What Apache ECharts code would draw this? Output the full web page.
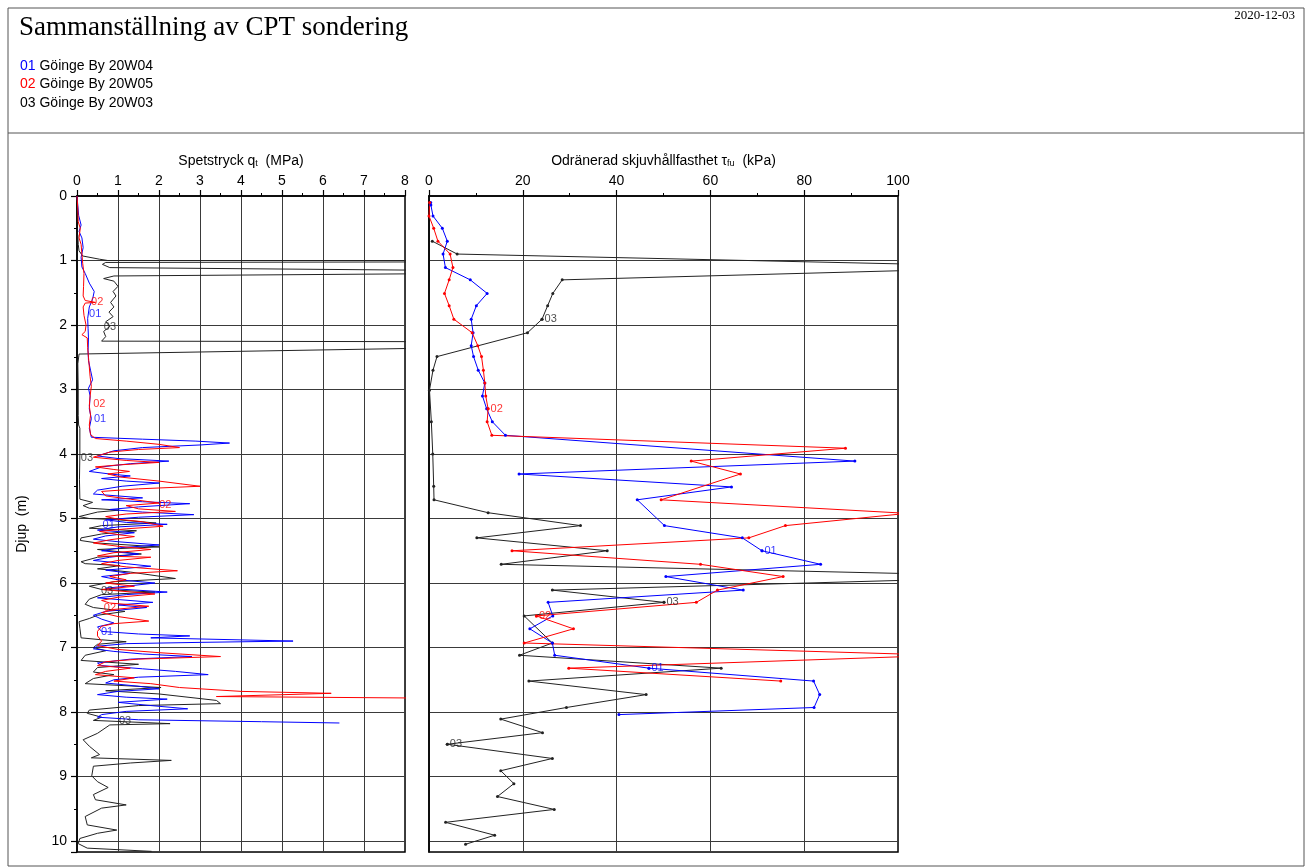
<!DOCTYPE html>
<html><head><meta charset="utf-8">
<script src="https://cdn.jsdelivr.net/npm/echarts@6/dist/echarts.min.js"></script>
<style>html,body{margin:0;padding:0;background:#fff}#c{width:1312px;height:868px}</style>
</head><body><div id="c"></div>
<script>
// ---------- DATA ----------
const seriesNames = ['01', '02', '03'];
const legendTexts = ['Göinge By 20W04', 'Göinge By 20W05', 'Göinge By 20W03'];
const seriesColors = ['#0000ff', '#ff0000', '#222222'];

// Spetstryck qt (MPa) vs depth (m): [qt, depth]
const qt01 = [[0,0],[0.02,0.15],[0.04,0.3],[0.1,0.45],[0.05,0.55],[0.12,0.65],[0.15,0.8],[0.1,0.95],[0.12,1.1],[0.2,1.2],[0.3,1.35],[0.42,1.48],[0.38,1.6],[0.3,1.72],[0.26,1.9],[0.27,2.05],[0.28,2.2],[0.27,2.4],[0.28,2.55],[0.33,2.7],[0.38,2.85],[0.28,2.98],[0.32,3.1],[0.3,3.3],[0.35,3.45],[0.3,3.6],[0.35,3.74],
[1.6,3.77],[2.9,3.8],[3.72,3.83],[3.0,3.86],[1.6,3.9],[0.9,3.95],[0.5,4.03],[1.0,4.07],[2.24,4.11],[1.3,4.15],[0.6,4.2],[0.3,4.27],[0.8,4.31],[1.3,4.34],[0.6,4.38],[1.2,4.42],[2.0,4.45],[1.1,4.5],[0.5,4.56],[0.4,4.62],[1.0,4.65],[1.6,4.68],[0.6,4.71],[1.6,4.74],[2.75,4.77],[1.5,4.82],[0.8,4.86],[1.6,4.9],[2.85,4.94],[1.5,4.98],[0.7,5.02],[1.2,5.06],[2.2,5.09],[1.0,5.13],[0.5,5.18],[1.4,5.22],[0.7,5.27],[0.4,5.32],[1.0,5.36],[2.0,5.41],[1.1,5.45],[0.6,5.5],[1.5,5.55],[0.8,5.6],[0.4,5.65],[1.2,5.7],[1.8,5.74],[0.7,5.8],[1.3,5.85],[0.6,5.9],[1.0,5.95],[1.9,6.0],[1.2,6.05],[0.7,6.08],[2.2,6.14],[1.2,6.18],[0.5,6.23],[1.85,6.3],[1.0,6.34],[1.7,6.38],[0.7,6.44],[0.4,6.5],[0.6,6.56],[0.9,6.62],[0.5,6.68],[0.6,6.75],[1.5,6.79],[2.75,6.82],[1.8,6.85],[5.27,6.9],[3.0,6.92],[1.2,6.94],[0.5,6.98],[0.4,7.02],[0.9,7.06],[1.6,7.1],[2.8,7.14],[1.3,7.18],[0.5,7.24],[0.6,7.28],[1.6,7.33],[2.4,7.37],[3.2,7.42],[1.5,7.46],[0.9,7.5],[0.7,7.55],[1.5,7.6],[2.0,7.64],[1.0,7.68],[0.5,7.73],[1.2,7.77],[2.2,7.8],[1.0,7.85],[1.8,7.9],[2.7,7.95],[1.2,7.99],[0.6,8.04],[0.5,8.08],[1.5,8.12],[4.5,8.15],[6.4,8.17]];

const qt02 = [[0,0],[0.02,0.2],[0.03,0.4],[0.08,0.5],[0.05,0.65],[0.1,0.75],[0.12,0.9],[0.14,1.05],[0.17,1.2],[0.16,1.4],[0.15,1.55],[0.2,1.62],[0.45,1.65],[0.2,1.66],[0.15,1.72],[0.17,1.85],[0.22,2.0],[0.2,2.1],[0.12,2.15],[0.25,2.2],[0.26,2.35],[0.28,2.5],[0.3,2.65],[0.32,2.8],[0.35,2.95],[0.32,3.1],[0.3,3.25],[0.33,3.4],[0.3,3.55],[0.33,3.7],[0.45,3.76],
[1.2,3.8],[2.0,3.85],[2.5,3.9],[1.5,3.93],[0.8,3.97],[0.4,4.05],[1.2,4.1],[2.0,4.13],[1.0,4.17],[0.45,4.2],[0.9,4.24],[1.28,4.27],[0.75,4.31],[1.1,4.36],[2.0,4.42],[3.0,4.5],[1.5,4.54],[0.6,4.58],[0.7,4.65],[1.3,4.7],[2.0,4.76],[1.2,4.8],[1.5,4.85],[2.4,4.89],[1.2,4.93],[0.7,4.97],[1.0,5.01],[1.6,5.05],[2.1,5.12],[1.2,5.16],[0.55,5.2],[1.0,5.25],[1.4,5.28],[0.8,5.33],[0.4,5.38],[1.0,5.43],[1.8,5.48],[0.9,5.53],[0.5,5.58],[1.8,5.6],[1.0,5.65],[0.6,5.7],[1.2,5.75],[2.45,5.81],[1.3,5.85],[0.8,5.9],[1.2,5.95],[0.7,6.0],[1.4,6.05],[0.6,6.1],[1.9,6.17],[1.0,6.22],[0.6,6.27],[0.8,6.31],[1.75,6.36],[0.9,6.41],[0.6,6.46],[1.0,6.52],[1.75,6.59],[0.9,6.63],[0.6,6.67],[0.5,6.75],[0.5,6.82],[0.6,6.9],[0.5,6.97],[1.0,7.03],[2.0,7.08],[3.5,7.14],[1.5,7.18],[0.7,7.22],[0.5,7.28],[1.3,7.32],[0.7,7.37],[0.45,7.42],[1.4,7.47],[0.9,7.52],[1.8,7.56],[2.5,7.62],[4.0,7.68],[6.2,7.71],[3.4,7.76],[14,7.81]];

const qt03 = [[0.02,0.6],[0.03,0.75],[0.05,0.85],[0.14,0.93],[0.55,0.98],[0.75,1.0],[30,1.0],[0.7,1.03],[0.62,1.06],[0.8,1.11],[14,1.18],[0.9,1.24],[0.65,1.28],[0.9,1.32],[1.0,1.4],[0.88,1.48],[0.95,1.55],[0.82,1.65],[0.9,1.72],[0.78,1.8],[0.88,1.87],[0.7,1.95],[0.8,2.02],[0.65,2.1],[0.7,2.18],[0.6,2.25],[20,2.27],[14,2.3],[0.05,2.45],[0.02,2.6],[0.03,3.0],[0.03,3.4],[0.04,3.55],[0.07,3.6],[0.07,4.0],[0.06,4.4],[0.07,4.7],[0.38,4.75],[0.15,4.8],[0.3,4.84],[1.03,4.87],[0.5,4.9],[0.05,4.97],[0.3,5.0],[1.0,5.02],[1.93,5.07],[0.6,5.11],[0.3,5.15],[1.45,5.19],[0.6,5.24],[0.1,5.3],[0.08,5.34],[0.5,5.38],[2.0,5.44],[0.5,5.48],[1.57,5.55],[0.5,5.6],[0.1,5.67],[0.2,5.7],[1.05,5.73],[0.5,5.78],[1.3,5.83],[2.4,5.93],[0.9,5.98],[0.3,6.05],[0.6,6.1],[1.9,6.14],[0.6,6.18],[0.3,6.25],[0.2,6.33],[0.4,6.38],[1.17,6.44],[0.5,6.5],[0.3,6.55],[0.05,6.6],[0.07,6.7],[0.1,6.85],[0.6,6.88],[1.2,6.91],[0.5,6.95],[0.4,7.0],[0.7,7.05],[0.2,7.12],[0.1,7.2],[1.5,7.26],[0.5,7.31],[0.4,7.38],[0.9,7.42],[0.4,7.48],[0.2,7.56],[2.05,7.62],[0.7,7.67],[2.0,7.72],[3.4,7.82],[3.5,7.87],[1.5,7.9],[0.3,7.97],[0.25,8.02],[0.6,8.08],[0.4,8.13],[2.27,8.18],[0.8,8.2],[0.5,8.33],[0.15,8.43],[0.3,8.53],[0.55,8.66],[0.35,8.71],[2.3,8.75],[1.3,8.79],[0.4,8.84],[0.36,8.99],[0.5,9.08],[0.76,9.17],[0.4,9.28],[0.45,9.36],[1.2,9.44],[0.6,9.49],[0.2,9.62],[0.25,9.75],[0.97,9.83],[0.5,9.88],[0.07,9.96],[0.03,10.04],[0.25,10.11],[1.82,10.16]];

// Odränerad skjuvhållfasthet tau_fu (kPa) vs depth (m): [tau, depth]
const tau01 = [[0.36,0.10],[0.4,0.14],[0.85,0.31],[2.84,0.5],[3.9,0.70],[3.0,0.9],[3.5,1.11],[8.8,1.30],[12.4,1.51],[10.1,1.70],[9.0,1.91],[9.4,2.12],[9.0,2.32],[9.5,2.49],[10.5,2.70],[11.9,2.90],[11.4,3.10],[12.3,3.30],[13.5,3.50],[16.3,3.71],[90.8,4.11],[19.2,4.31],[64.5,4.51],[44.4,4.71],[50.2,5.11],[66.8,5.30],[71.0,5.50],[83.5,5.71],[50.5,5.90],[67.0,6.11],[25.4,6.30],[26.4,6.51],[21.5,6.71],[26.3,6.93],[26.8,7.12],[46.9,7.32],[82.0,7.52],[83.3,7.73],[82.1,7.93],[40.5,8.04]];
const tau02 = [[0.14,0.10],[0,0.31],[1.0,0.5],[1.9,0.70],[4.5,0.90],[5.1,1.11],[4.3,1.30],[3.3,1.51],[4.3,1.70],[5.3,1.91],[9.2,2.12],[10.4,2.32],[11.2,2.49],[11.6,2.70],[11.9,2.90],[12.1,3.10],[12.6,3.30],[12.4,3.50],[13.4,3.71],[88.8,3.91],[55.9,4.11],[66.4,4.31],[49.5,4.71],[102,4.92],[76.0,5.11],[68.2,5.30],[17.7,5.50],[57.9,5.71],[75.5,5.90],[61.5,6.11],[57.0,6.30],[22.9,6.51],[30.8,6.71],[20.3,6.93],[110,7.12],[29.8,7.32],[75.0,7.52]];
const tau03 = [[0.7,0.70],[6.0,0.90],[130,1.10],[28.4,1.30],[26.4,1.51],[25.3,1.70],[24.1,1.91],[21.0,2.12],[1.7,2.49],[0.85,2.70],[0.1,3.01],[0.5,3.5],[0.8,4.0],[1.0,4.5],[1.07,4.71],[12.6,4.91],[32.3,5.11],[10.2,5.30],[38.0,5.50],[15.4,5.71],[130,5.90],[26.3,6.11],[50.1,6.30],[20.3,6.51],[26.3,6.93],[19.3,7.12],[62.3,7.32],[21.3,7.52],[46.3,7.73],[29.3,7.93],[15.3,8.11],[24.2,8.32],[3.9,8.50],[26.3,8.72],[15.3,8.91],[18.1,9.11],[14.6,9.31],[26.7,9.51],[3.55,9.71],[14.0,9.91],[7.8,10.05]];

// series tag label anchor points
const qtLabels01 = [[0.27,1.83],[0.39,3.46],[0.6,5.1],[0.56,6.76]];
const qtLabels02 = [[0.32,1.64],[0.37,3.22],[1.98,4.79],[0.63,6.39]];
const qtLabels03 = [[0.63,2.03],[0.07,4.06],[0.56,6.12],[1.0,8.14]];
const tauLabels01 = [[71.0,5.50],[46.9,7.32]];
const tauLabels02 = [[12.6,3.30],[22.9,6.51]];
const tauLabels03 = [[24.1,1.91],[50.1,6.30],[3.9,8.50]];

const qtAxis = {min: 0, max: 8, interval: 1};
const tauAxis = {min: 0, max: 100, interval: 20};
const depthAxis = {min: 0, max: 10.17, interval: 1};

const titleText = 'Sammanställning av CPT sondering';
const dateText = '2020-12-03';
const qtName = '{a|Spetstryck q}{s|t}{a|  (MPa)}';
const tauName = '{a|Odränerad skjuvhållfasthet τ}{s|fu}{a|  (kPa)}';
const depthName = 'Djup  (m)';

// ---------- CHART ----------
const FONT = '"Liberation Sans", Arial, sans-serif';
const chart = echarts.init(document.getElementById('c'), null, {renderer: 'canvas'});

const nameRich = {
  a: {fontSize: 14, fontFamily: FONT, color: '#000', fontWeight: 'normal'},
  s: {fontSize: 9, fontFamily: FONT, color: '#000', fontWeight: 'normal', lineHeight: 9, padding: [10, 0, 0, 0], verticalAlign: 'bottom'}
};

function xAx(grid, cfg, name) {
  return {
    type: 'value', gridIndex: grid, position: 'top', min: cfg.min, max: cfg.max, interval: cfg.interval,
    name: name, nameLocation: 'middle', nameGap: 28,
    nameTextStyle: {rich: nameRich},
    axisLine: {show: true, lineStyle: {color: '#000', width: 1.5}},
    axisTick: {show: true, length: 6, lineStyle: {color: '#000', width: 1.2}},
    minorTick: {show: true, splitNumber: 2, length: 3, lineStyle: {color: '#000', width: 1}},
    axisLabel: {show: true, margin: 8, color: '#000', fontSize: 14, fontFamily: FONT},
    splitLine: {show: true, lineStyle: {color: '#3a3a3a', width: 1}},
    minorSplitLine: {show: false}
  };
}
function yAx(grid, showLabels) {
  return {
    type: 'value', gridIndex: grid, inverse: true, min: depthAxis.min, max: depthAxis.max, interval: depthAxis.interval,
    axisLine: {show: true, lineStyle: {color: '#000', width: 1.5}},
    axisTick: {show: showLabels, length: 6, lineStyle: {color: '#000', width: 1.2}},
    minorTick: {show: showLabels, splitNumber: 2, length: 3, lineStyle: {color: '#000'}},
    axisLabel: {show: showLabels, margin: 10, color: '#000', fontSize: 14, fontFamily: FONT,
      formatter: v => (Math.abs(v - Math.round(v)) < 1e-6 ? String(Math.round(v)) : '')},
    splitLine: {show: true, lineStyle: {color: '#3a3a3a', width: 1}}
  };
}
function lineS(name, data, color, xi, withSymbols) {
  return {
    name: name, type: 'line', xAxisIndex: xi, yAxisIndex: xi, data: data,
    showSymbol: withSymbols, symbol: 'circle', symbolSize: 3,
    itemStyle: {color: color}, lineStyle: {color: color, width: 1},
    clip: true, animation: false, z: 3
  };
}
function withSym(xi) { return xi === 1 ? 3 : 0; }
function tagS(text, data, color, xi) {
  return {
    type: 'scatter', xAxisIndex: xi, yAxisIndex: xi, data: data, symbolSize: withSym(xi),
    itemStyle: {color: color}, silent: true, animation: false, z: 4,
    label: {show: true, position: 'right', distance: 1, formatter: text, color: color, fontSize: 11, fontFamily: FONT}
  };
}

const legendTitles = seriesNames.map((n, i) => ({
  text: '{n|' + n + '} {t|' + legendTexts[i] + '}',
  left: 20, top: 59 + i * 18.5, padding: 0,
  textStyle: {fontWeight: 'normal', fontSize: 14, fontFamily: FONT, rich: {
    n: {color: seriesColors[i] === '#222222' ? '#000' : seriesColors[i], fontSize: 14, fontFamily: FONT, fontWeight: 'normal'},
    t: {color: '#000', fontSize: 14, fontFamily: FONT, fontWeight: 'normal'}
  }}
}));

const option = {
  backgroundColor: '#fff',
  animation: false,
  title: [
    {text: titleText, left: 19, top: 14, padding: 0,
     textStyle: {fontFamily: '"Liberation Serif", "Times New Roman", serif', fontSize: 27, fontWeight: 'normal', color: '#000'}},
    {text: dateText, right: 17, top: 9, padding: 0,
     textStyle: {fontFamily: '"Liberation Serif", "Times New Roman", serif', fontSize: 13, fontWeight: 'normal', color: '#000'}}
  ].concat(legendTitles),
  graphic: [
    {type: 'rect', shape: {x: 8, y: 8, width: 1296, height: 858}, style: {fill: 'none', stroke: '#555', lineWidth: 1}, silent: true},
    {type: 'line', shape: {x1: 8, y1: 133, x2: 1304, y2: 133}, style: {stroke: '#555', lineWidth: 1}, silent: true},
    {type: 'text', x: 22, y: 524, rotation: Math.PI / 2,
     style: {text: depthName, fill: '#000', font: '14px ' + FONT, textAlign: 'center', textVerticalAlign: 'middle'}, silent: true}
  ],
  grid: [
    {left: 77, top: 196, width: 328, height: 656, show: true, borderColor: '#000', borderWidth: 1.5, backgroundColor: 'transparent'},
    {left: 429, top: 196, width: 469, height: 656, show: true, borderColor: '#000', borderWidth: 1.5, backgroundColor: 'transparent'}
  ],
  xAxis: [xAx(0, qtAxis, qtName), xAx(1, tauAxis, tauName)],
  yAxis: [yAx(0, true), yAx(1, false)],
  series: [
    lineS('03', qt03, seriesColors[2], 0, false),
    lineS('01', qt01, seriesColors[0], 0, false),
    lineS('02', qt02, seriesColors[1], 0, false),
    lineS('03', tau03, seriesColors[2], 1, true),
    lineS('01', tau01, seriesColors[0], 1, true),
    lineS('02', tau02, seriesColors[1], 1, true),
    tagS('01', qtLabels01, seriesColors[0], 0),
    tagS('02', qtLabels02, seriesColors[1], 0),
    tagS('03', qtLabels03, seriesColors[2], 0),
    tagS('01', tauLabels01, seriesColors[0], 1),
    tagS('02', tauLabels02, seriesColors[1], 1),
    tagS('03', tauLabels03, seriesColors[2], 1)
  ]
};
chart.setOption(option);
</script>
</body></html>
